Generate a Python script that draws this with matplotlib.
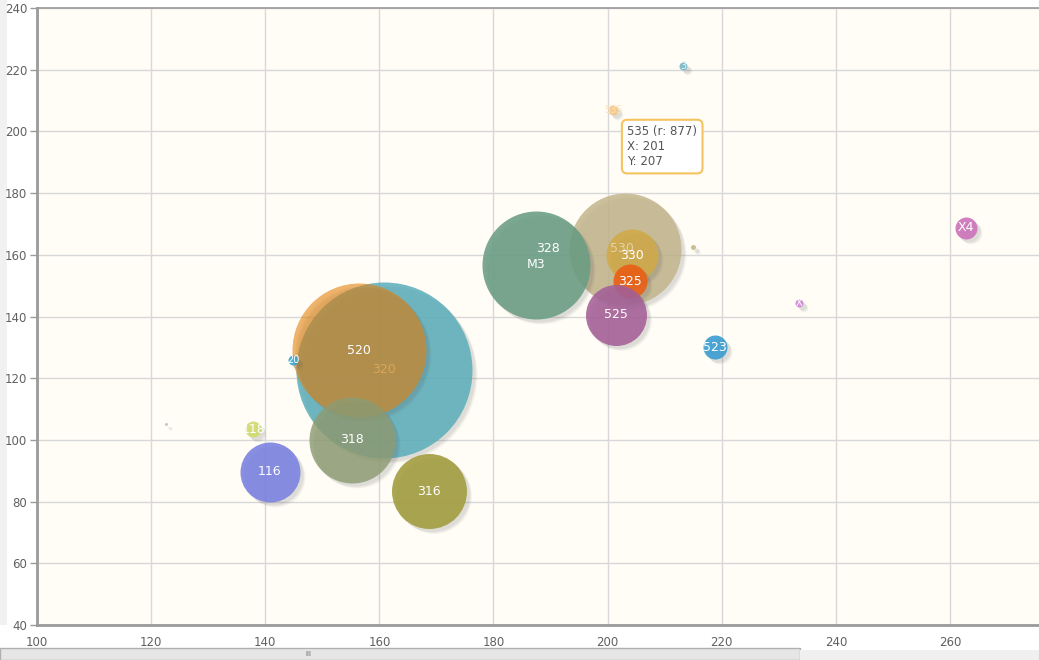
import matplotlib.pyplot as plt
import matplotlib.transforms as mtransforms
from matplotlib.patches import Rectangle

# bubble data (drawing order = list order)
labels = ['320', '520', '20', '318', '316', '116', '118', '5.3',
          '530', 'M3', '330', '325', '525', '523', '', 'X', 'X4', '3', '535']
x_vals = [160.8, 156.4, 144.9, 155.2, 168.7, 140.8, 137.9, 122.6,
          203.1, 187.5, 204.3, 203.9, 201.5, 218.8, 215.0, 233.5, 262.8, 213.2, 201]
y_vals = [122.7, 129.1, 125.9, 100.0, 83.4, 89.6, 103.5, 105.2,
          161.9, 156.7, 159.9, 151.5, 140.5, 130.1, 162.5, 144.4, 168.7, 221.2, 207]
r_vals = [88, 67, 5, 43, 37.5, 30, 8, 1.5,
          56, 54, 26, 17, 30.5, 12, 2.5, 4, 11, 4, 5]
colors = ['#5aaebb', '#e2820f', '#3aa6cf', '#8d9c72', '#a39d40', '#7b82e0', '#d2da70', '#c9c0a8',
          '#c2b58c', '#6a9d83', '#d1aa48', '#ea5f15', '#a45f97', '#3a9dd0', '#c9b68c', '#d184d9',
          '#cc73b9', '#76b6c9', '#f5c784']
alphas = [0.85, 0.6, 0.9, 0.82, 0.9, 0.9, 0.9, 0.9,
          0.85, 0.88, 0.88, 0.9, 0.88, 0.9, 0.9, 0.9, 0.9, 0.9, 0.9]
label_colors = {'320': '#dca55c', '530': '#e2d4a8', '3': '#e6f2f5', '535': '#fbe3bf'}

tip_value = 877

fig = plt.figure(figsize=(10.39, 6.6), dpi=100)
fig.patch.set_facecolor('white')
ax = fig.add_axes([37 / 1039, 35 / 660, 1.0 - 37 / 1039, 617 / 660])
ax.set_facecolor('#fffdf6')
ax.set_xlim(100, 275.6)
ax.set_ylim(40, 240)
ax.set_xticks(range(100, 261, 20))
ax.set_yticks(range(40, 241, 20))
ax.grid(True, color='#d8d8d8', linewidth=1)
ax.set_axisbelow(True)
ax.spines['right'].set_visible(False)
for side in ['left', 'bottom', 'top']:
    ax.spines[side].set_color('#9a9a9a')
ax.spines['left'].set_linewidth(2)
ax.spines['bottom'].set_linewidth(2)
ax.spines['top'].set_linewidth(1.2)
ax.tick_params(axis='both', colors='#9a9a9a', labelcolor='#606060', labelsize=8.5,
               length=5, width=1)
ax.tick_params(axis='x', length=0, pad=8)
ax.tick_params(axis='y', pad=2)

sizes = [(1.44 * r) ** 2 for r in r_vals]

# soft drop shadows
for i in range(len(x_vals)):
    for k, a in [(5, 0.05), (4, 0.07), (3, 0.08)]:
        tr = mtransforms.offset_copy(ax.transData, fig=fig, x=k, y=-k, units='dots')
        ax.scatter(x_vals[i], y_vals[i], s=sizes[i], color='#555555', alpha=a,
                   linewidths=0, transform=tr, zorder=2 + i * 2)
    ax.scatter(x_vals[i], y_vals[i], s=sizes[i], color=colors[i], alpha=alphas[i],
               linewidths=0, zorder=3 + i * 2)

for i, lab in enumerate(labels):
    if not lab:
        continue
    fs = 9 if r_vals[i] >= 8 else 7
    xo = -0.6 if lab == '530' else 0
    ax.text(x_vals[i] + xo, y_vals[i], lab, color=label_colors.get(lab, 'white'),
            fontsize=fs, ha='center', va='center', zorder=100)
ax.text(189.5, 162.2, '328', color='white', fontsize=9, ha='center', va='center', zorder=100)

# tooltip for the hovered point
tip = labels.index('535')
ax.annotate('%s (r: %d)\nX: %d\nY: %d' % (labels[tip], tip_value, x_vals[tip], y_vals[tip]),
            xy=(x_vals[tip], y_vals[tip]), xytext=(10, -11), textcoords='offset points',
            ha='left', va='top', fontsize=8.5, color='#555555', linespacing=1.2,
            bbox=dict(boxstyle='round,pad=0.45', fc='white', ec='#f5c45e', lw=1.5),
            zorder=200)

# scrollbar strip under the chart
fig.patches.append(Rectangle((0, 0), 800 / 1039, 12 / 660, transform=fig.transFigure,
                             fc='#e6e6e6', ec='#b0b0b0', lw=1))
fig.patches.append(Rectangle((800 / 1039, 0), 239 / 1039, 10 / 660, transform=fig.transFigure,
                             fc='#f0f0f0', ec='none'))
fig.text(308 / 1039, 3 / 660, 'III', fontsize=5, color='#666666', ha='center', va='bottom')
fig.patches.append(Rectangle((0, 35 / 660), 7 / 1039, 1 - 35 / 660, transform=fig.transFigure,
                             fc='#f1f1f1', ec='none', zorder=-1))

fig.savefig('out.png', dpi=100)
